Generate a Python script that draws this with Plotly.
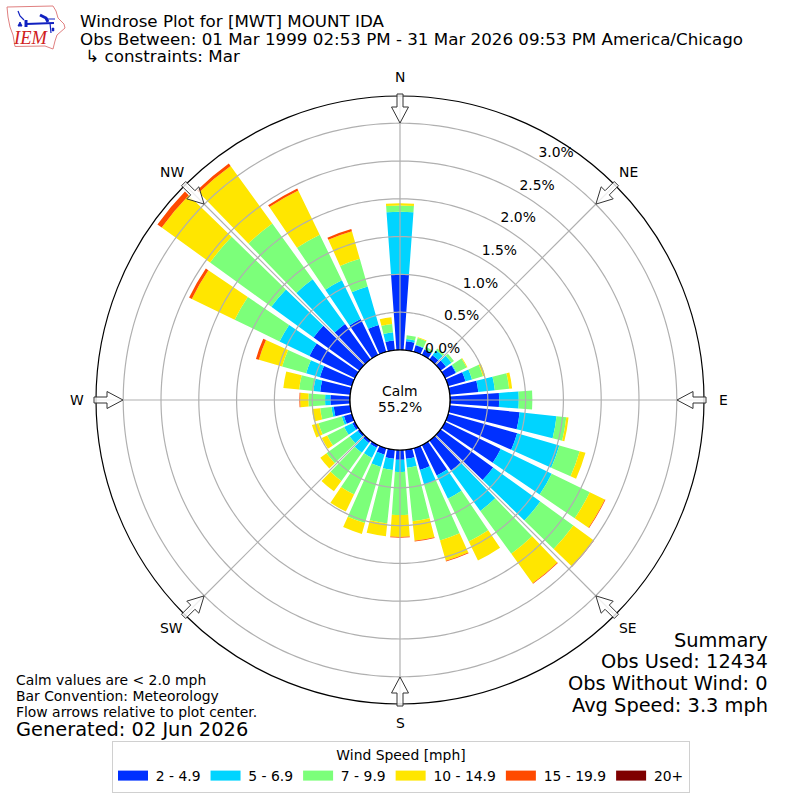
import numpy as np
import plotly.graph_objects as go

directions = [d * 10 for d in range(36)]
speed_labels = ["2 - 4.9", "5 - 6.9", "7 - 9.9", "10 - 14.9", "15 - 19.9", "20+"]
speed_colors = ["#0030ff", "#00d4ff", "#7cff7a", "#ffe600", "#ff4a00", "#7f0000"]

v_2_5 = [1.00, .12, .09, .08, .07, .09, .16, .24, .38, .65, .93, .95, .82, .86, .49, .45, .30, .12,
         .13, .12, .09, .04, .04, .03, .04, .11, .22, .26, .40, .44, .67, .75, .58, .53, .37, .13]
v_5_7 = [.83, .03, .01, .01, .08, .09, .01, .09, .22, .26, .49, .58, .75, .77, .66, .34, .20, .12,
         .16, .15, .17, .15, .16, .13, .12, .03, .03, .07, .09, .19, .44, .69, .73, .57, .53, .11]
v_7_10 = [.08, .05, .09, .03, .03, .04, .15, .15, .19, .18, .13, .28, .56, .54, .70, .63, .77, .71,
          .57, .71, .77, .54, .46, .38, .25, .32, .15, .22, .19, .33, .66, 1.00, .91, .67, .38, .11]
v_10_15 = [.03, 0, .01, 0, 0, 0, .01, .03, .04, 0, .03, .08, .22, .33, .48, .28, .28, .26,
           .29, .17, .15, .25, .17, .10, .08, .09, .11, .11, .21, .32, .63, .79, .94, .65, .38, .09]
v_15_20 = [0, 0, 0, 0, 0, 0, 0, 0, 0, 0, 0, 0, .01, .01, .01, 0, .01, .01,
           .01, 0, 0, 0, 0, 0, 0, 0, 0, .01, 0, .04, .04, .07, .04, .03, .03, 0]
v_20 = [0] * 36
series = [v_2_5, v_5_7, v_7_10, v_10_15, v_15_20, v_20]

ring_values = [0.0, 0.5, 1.0, 1.5, 2.0, 2.5, 3.0]
ring_labels = ["0.0%", "0.5%", "1.0%", "1.5%", "2.0%", "2.5%", "3.0%"]
compass_angles = [0, 45, 90, 135, 180, 225, 270, 315]
compass_labels = ["N", "NE", "E", "SE", "S", "SW", "W", "NW"]
R_MAX = 3.36
GRID = "#b0b0b0"
FONT = "DejaVu Sans"


def px(x):
    return x / 800


def py(y):
    return 1 - y / 800


fig = go.Figure()
for label, color, vals in zip(speed_labels, speed_colors, series):
    fig.add_trace(go.Barpolar(r=vals, theta=directions, width=[8.2] * 36, name=label, showlegend=False,
                              marker=dict(color=color, line=dict(width=0)), hoverinfo="skip"))

# grid drawn over the bars, as in the reference
circle = np.linspace(0, 360, 361)
for rv in ring_values[1:]:
    fig.add_trace(go.Scatterpolar(r=[rv] * 361, theta=circle, mode="lines", showlegend=False,
                                  line=dict(color=GRID, width=1.2), hoverinfo="skip"))
for a in compass_angles:
    fig.add_trace(go.Scatterpolar(r=[0, R_MAX], theta=[a, a], mode="lines", showlegend=False,
                                  line=dict(color=GRID, width=1.2), hoverinfo="skip"))
fig.add_trace(go.Scatterpolar(r=[0] * 361, theta=circle, mode="lines", showlegend=False,
                              line=dict(color="black", width=1.2), hoverinfo="skip"))
fig.add_trace(go.Scatterpolar(r=ring_values, theta=[30] * 7, mode="text", text=ring_labels,
                              textposition="top right", showlegend=False,
                              textfont=dict(family=FONT, size=13.9, color="black"), hoverinfo="skip"))
# legend keys: wide flat swatches, as in the reference
for label, color in zip(speed_labels, speed_colors):
    fig.add_trace(go.Scatterpolar(r=[None], theta=[None], mode="lines", name="\u2009" + label,
                                  line=dict(color=color, width=10), hoverinfo="skip"))

shapes = []
# flow arrows
CX, CY = 400, 400
outline = [(-3, 306), (3, 306), (3, 293), (8.5, 293), (0, 277), (-8.5, 293), (-3, 293)]
for a in compass_angles:
    t = np.radians(a)
    pts = []
    for u, v in outline:
        x = CX + v * np.sin(t) + u * np.cos(t)
        y = CY - v * np.cos(t) + u * np.sin(t)
        pts.append(f"{px(x):.5f},{py(y):.5f}")
    shapes.append(dict(type="path", xref="paper", yref="paper", path="M" + " L".join(pts) + " Z",
                       fillcolor="rgba(255,255,255,0.8)", line=dict(color="#333333", width=1)))


def poly(points, close=True, **kw):
    d = "M" + " L".join(f"{px(x):.5f},{py(y):.5f}" for x, y in points) + (" Z" if close else "")
    return dict(type="path", xref="paper", yref="paper", path=d, **kw)


# logo
iowa = [(7, 7), (53, 6), (56, 11), (58, 18), (64, 24), (65, 28), (57, 35), (55, 41), (53, 49), (45, 46), (15, 46.5),
        (13, 35), (10, 27), (8, 17)]
BLUE = "#1020c0"
shapes.append(poly(iowa, fillcolor="white", line=dict(color="#e08080", width=1)))
shapes.append(poly([(26, 24), (54, 23)], close=False, line=dict(color=BLUE, width=2)))
shapes.append(poly([(26, 20), (26, 27)], close=False, line=dict(color=BLUE, width=3)))
shapes.append(poly([(18, 11), (20, 16), (24, 20)], close=False, line=dict(color=BLUE, width=1.2)))
shapes.append(poly([(40, 15), (46, 18), (48, 22)], close=False, line=dict(color=BLUE, width=3)))
shapes.append(poly([(46, 19), (55, 19)], close=False, line=dict(color=BLUE, width=1)))
shapes.append(poly([(50, 23), (51, 33)], close=False, line=dict(color=BLUE, width=1.2)))
shapes.append(poly([(18, 26), (22, 26), (20, 22)], fillcolor=BLUE, line=dict(color=BLUE, width=1)))
shapes.append(poly([(52, 28), (54, 28), (54, 31), (52, 31)], fillcolor=BLUE, line=dict(color=BLUE, width=0.5)))


def text(x, y, s, size, anchor="left", color="black", family=FONT):
    return dict(x=px(x), y=py(y), xref="paper", yref="paper", text=s, showarrow=False, xanchor=anchor,
                yanchor="middle", borderpad=0, borderwidth=0, font=dict(family=family, size=size, color=color))


ann = [
    text(80, 21, "Windrose Plot for [MWT] MOUNT IDA", 16.7),
    text(80, 39, "Obs Between: 01 Mar 1999 02:53 PM - 31 Mar 2026 09:53 PM America/Chicago", 16.7),
    text(80, 56, " ↳ constraints: Mar", 16.7),
    text(400, 391, "Calm", 13.9, "center"),
    text(400, 407, "55.2%", 13.9, "center"),
    text(768, 640, "Summary", 19.4, "right"),
    text(768, 661, "Obs Used: 12434", 19.4, "right"),
    text(768, 683, "Obs Without Wind: 0", 19.4, "right"),
    text(768, 705, "Avg Speed: 3.3 mph", 19.4, "right"),
    text(16, 680, "Calm values are &lt; 2.0 mph", 13.9),
    text(16, 696, "Bar Convention: Meteorology", 13.9),
    text(16, 712, "Flow arrows relative to plot center.", 13.9),
    text(16, 729, "Generated: 02 Jun 2026", 19.4),
    text(30, 38, "<i>IEM</i>", 18.5, "center", "#d02020", "Liberation Serif"),
]
for a, lab in zip(compass_angles, compass_labels):
    t = np.radians(a)
    ann.append(text(CX + 323 * np.sin(t), CY - 323 * np.cos(t), lab, 13.9, "center"))

fig.update_layout(
    width=800, height=800, margin=dict(l=0, r=0, t=0, b=0, autoexpand=False),
    paper_bgcolor="white", shapes=shapes, annotations=ann,
    font=dict(family=FONT, size=13.9, color="black"),
    polar=dict(
        domain=dict(x=[96 / 800, 704 / 800], y=[96 / 800, 704 / 800]),
        hole=50 / 304, barmode="stack", bgcolor="white",
        radialaxis=dict(range=[0, R_MAX], tickvals=ring_values, showticklabels=False, ticks="", showline=False,
                        showgrid=False),
        angularaxis=dict(direction="clockwise", rotation=90, tickmode="array", tickvals=compass_angles,
                         showticklabels=False, showgrid=False, linecolor="black", linewidth=1.2, ticks=""),
    ),
    legend=dict(orientation="h", x=112 / 800, y=py(741), xanchor="left", yanchor="top",
                bordercolor="#d0d0d0", borderwidth=1, bgcolor="white",
                title=dict(text="Wind Speed [mph]", side="top center", font=dict(family=FONT, size=13.9)),
                font=dict(family=FONT, size=13.9), itemwidth=30, traceorder="normal"),
)
fig.write_html("out.html", post_script="document.body.style.margin='0';", config=dict(displayModeBar=False))
